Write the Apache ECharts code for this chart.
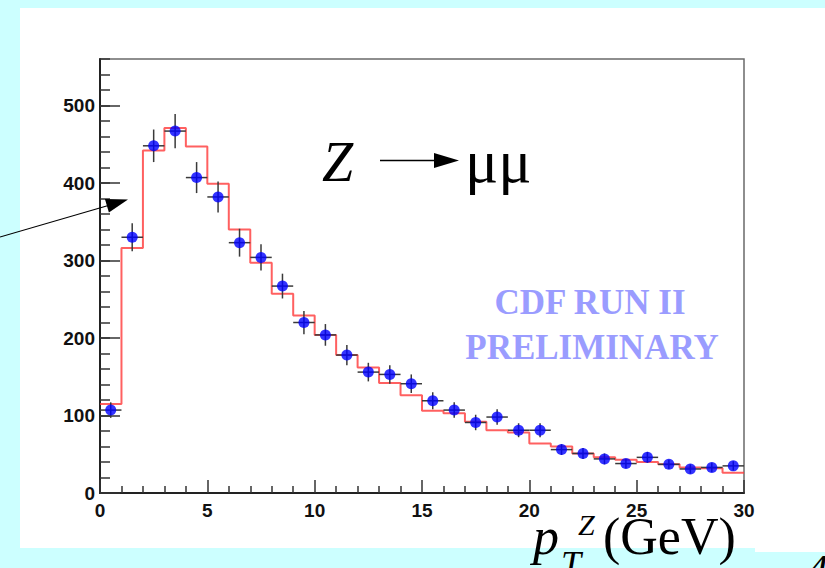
<!DOCTYPE html>
<html>
<head>
<meta charset="utf-8">
<script src="https://cdn.jsdelivr.net/npm/echarts@6/dist/echarts.min.js"></script>
<style>
  html, body { margin: 0; padding: 0; background: #ccffff; }
  #chart { width: 825px; height: 568px; }
</style>
</head>
<body>
<div id="chart"></div>
<script>
// Z -> mu mu transverse momentum spectrum, 1 GeV bins from 0 to 30 GeV
const binLow     = [0, 1, 2, 3, 4, 5, 6, 7, 8, 9, 10, 11, 12, 13, 14, 15, 16, 17, 18, 19, 20, 21, 22, 23, 24, 25, 26, 27, 28, 29];
const binCenters = [0.5, 1.5, 2.5, 3.5, 4.5, 5.5, 6.5, 7.5, 8.5, 9.5, 10.5, 11.5, 12.5, 13.5, 14.5, 15.5, 16.5, 17.5, 18.5, 19.5, 20.5, 21.5, 22.5, 23.5, 24.5, 25.5, 26.5, 27.5, 28.5, 29.5];
const binHalfWidth = 0.5;
const lastEdge = 30;

// measured events per bin and their statistical errors
const dataCounts = [107, 330, 448, 467, 407, 382, 323, 304, 267, 220, 204, 178, 156, 153, 141, 119, 107, 91, 98, 81, 81, 56, 51, 44, 38, 46, 37, 31, 33, 35];
const dataErrors = [10, 18, 21, 22, 20, 20, 18, 17, 16, 15, 14, 13, 12, 12, 12, 11, 10, 10, 10, 9, 9, 7, 7, 7, 6, 7, 6, 6, 6, 6];

// simulated prediction per bin
const mcCounts = [115, 316, 442, 471, 447, 399, 340, 297, 257, 229, 204, 178, 162, 142, 126, 106, 103, 92, 81, 78, 64, 60, 51, 46, 43, 40, 37, 33, 32, 26];

// axis ticks
const xTicks = [0, 5, 10, 15, 20, 25, 30];
const yTicks = [0, 100, 200, 300, 400, 500];
const yMax = 560;

const histPoints = binLow.map((x, i) => [x, mcCounts[i]]);
histPoints.push([lastEdge, mcCounts[mcCounts.length - 1]]);

const pointData = binCenters.map((x, i) => [x, dataCounts[i], dataErrors[i]]);

const tickFont = { fontFamily: 'Liberation Sans', fontWeight: 'bold', fontSize: 19, color: '#111' };
const serif = "'Liberation Serif', 'DejaVu Serif', serif";

const chart = echarts.init(document.getElementById('chart'), null, { renderer: 'svg' });

chart.setOption({
  backgroundColor: '#ccffff',
  animation: false,
  grid: {
    left: 100, right: 81, top: 59, bottom: 75,
    show: true, borderColor: '#6a6a6a', borderWidth: 1.5, backgroundColor: 'transparent'
  },
  xAxis: {
    type: 'value', min: xTicks[0], max: xTicks[xTicks.length - 1], interval: 5,
    axisLine: { show: true, onZero: false, lineStyle: { color: '#222', width: 2 } },
    axisTick: { show: true, inside: true, length: 13, lineStyle: { color: '#333', width: 1.5 } },
    minorTick: { show: true, splitNumber: 5, length: 7, lineStyle: { color: '#333', width: 1.5 } },
    axisLabel: Object.assign({ margin: 8 }, tickFont),
    splitLine: { show: false }
  },
  yAxis: [
    {
      type: 'value', min: 0, max: yMax, interval: 20, position: 'left',
      axisLine: { show: true, onZero: false, lineStyle: { color: '#222', width: 2 } },
      axisTick: { show: true, inside: true, length: 10, lineStyle: { color: '#333', width: 1.5 } },
      axisLabel: { show: false },
      splitLine: { show: false }
    },
    {
      type: 'value', min: 0, max: yMax, interval: 100, position: 'left', offset: 0,
      axisLine: { show: false },
      axisTick: { show: true, inside: true, length: 20, lineStyle: { color: '#333', width: 1.5 } },
      axisLabel: Object.assign({ margin: 5, showMaxLabel: false,
        formatter: v => (yTicks.indexOf(v) >= 0 ? String(v) : '') }, tickFont),
      splitLine: { show: false }
    }
  ],
  series: [
    {
      name: 'prediction', type: 'line', step: 'end', data: histPoints,
      symbol: 'none', z: 2,
      lineStyle: { color: '#ff3838', width: 2, opacity: 0.8 }
    },
    {
      name: 'errors', type: 'custom', data: pointData, z: 3,
      renderItem: (params, api) => {
        const x = api.value(0), y = api.value(1), e = api.value(2);
        const top = api.coord([x, y + e]);
        const bot = api.coord([x, y - e]);
        const lft = api.coord([x - binHalfWidth, y]);
        const rgt = api.coord([x + binHalfWidth, y]);
        const style = { stroke: '#3a3a3a', lineWidth: 1.5 };
        return {
          type: 'group',
          children: [
            { type: 'line', shape: { x1: top[0], y1: top[1], x2: bot[0], y2: bot[1] }, style },
            { type: 'line', shape: { x1: lft[0], y1: lft[1], x2: rgt[0], y2: rgt[1] }, style }
          ]
        };
      }
    },
    {
      name: 'data', type: 'scatter', data: pointData.map(p => [p[0], p[1]]),
      symbol: 'circle', symbolSize: 11, z: 4,
      itemStyle: { color: '#0000ff' }
    }
  ],
  graphic: [
    // slide panel
    { type: 'rect', z: -10, silent: true, shape: { x: 20, y: 8, width: 805, height: 540 }, style: { fill: '#ffffff' } },
    { type: 'rect', z: -10, silent: true, shape: { x: 755, y: 540, width: 70, height: 12 }, style: { fill: '#ffffff' } },
    // pointer arrow from the left
    { type: 'line', z: 10, shape: { x1: 0, y1: 237, x2: 110, y2: 205 }, style: { stroke: '#000', lineWidth: 1.2 } },
    { type: 'polygon', z: 10, shape: { points: [[128, 199.5], [104.9, 199.0], [108.9, 212.4]] }, style: { fill: '#000' } },
    // process label
    { type: 'text', z: 10, style: { text: 'Z', x: 322, y: 190, font: 'italic 56px ' + serif, fill: '#000', textVerticalAlign: 'bottom' } },
    { type: 'line', z: 10, shape: { x1: 380, y1: 160.5, x2: 438, y2: 160.5 }, style: { stroke: '#000', lineWidth: 1.3 } },
    { type: 'polygon', z: 10, shape: { points: [[434, 153], [459, 160.5], [434, 168]] }, style: { fill: '#000' } },
    { type: 'text', z: 10, style: { text: 'μμ', x: 465, y: 192, font: '62px ' + serif, fill: '#000', textVerticalAlign: 'bottom' } },
    // preliminary stamp
    { type: 'text', z: 10, style: { text: 'CDF RUN II', x: 590, y: 302, font: 'bold 35px ' + serif, fill: '#9a9cff', textAlign: 'center', textVerticalAlign: 'middle' } },
    { type: 'text', z: 10, style: { text: 'PRELIMINARY', x: 592, y: 347, font: 'bold 35px ' + serif, fill: '#9a9cff', textAlign: 'center', textVerticalAlign: 'middle' } },
    // x axis title
    { type: 'text', z: 10, style: { text: 'p', x: 533, y: 562, font: 'italic 52px ' + serif, fill: '#000', textVerticalAlign: 'bottom' } },
    { type: 'text', z: 10, style: { text: 'T', x: 561, y: 582, font: 'italic 36px ' + serif, fill: '#000', textVerticalAlign: 'bottom' } },
    { type: 'text', z: 10, style: { text: 'Z', x: 578, y: 539, font: 'italic 30px ' + serif, fill: '#000', textVerticalAlign: 'bottom' } },
    { type: 'text', z: 10, style: { text: '(GeV)', x: 603, y: 562, font: '52px ' + serif, fill: '#000', textVerticalAlign: 'bottom' } },
    // page number
    { type: 'text', z: 10, style: { text: '4', x: 806, y: 592, font: 'italic 44px ' + serif, fill: '#000', textVerticalAlign: 'bottom' } }
  ]
});
</script>
</body>
</html>
